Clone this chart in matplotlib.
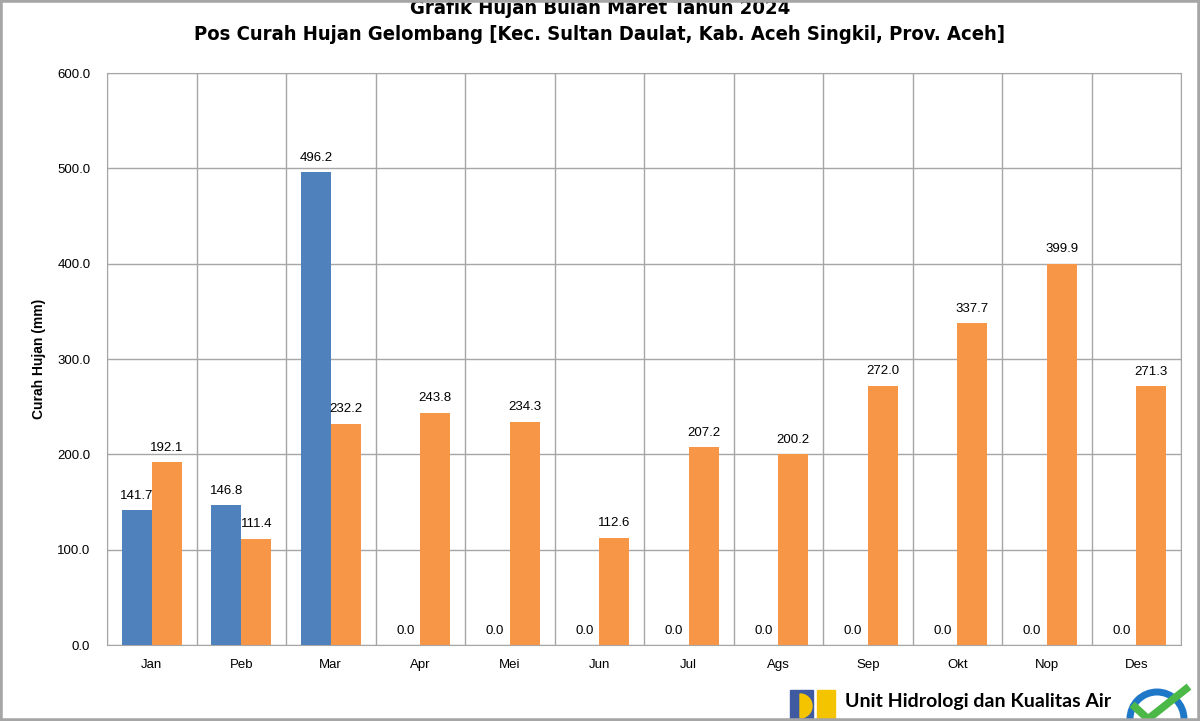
import numpy as np
import matplotlib.pyplot as plt
import matplotlib.font_manager as fm
from matplotlib.patches import Rectangle, Circle, Wedge

bulan = ['Jan', 'Peb', 'Mar', 'Apr', 'Mei', 'Jun', 'Jul', 'Ags', 'Sep', 'Okt', 'Nop', 'Des']
hujan_2024 = [141.7, 146.8, 496.2, 0.0, 0.0, 0.0, 0.0, 0.0, 0.0, 0.0, 0.0, 0.0]
hujan_rerata = [192.1, 111.4, 232.2, 243.8, 234.3, 112.6, 207.2, 200.2, 272.0, 337.7, 399.9, 271.3]

biru = '#4f81bd'
oranye = '#f79646'
abu = '#a6a6a6'
arial = ['Liberation Sans', 'DejaVu Sans']

# cari huruf sempit (condensed) bila ada
condensed = [f for f in fm.fontManager.ttflist
             if f.name == 'DejaVu Sans' and f.stretch == 'condensed' and f.weight in ('bold', 700)]
if condensed:
    judul_font = dict(family='DejaVu Sans', fontstretch='condensed', fontsize=14.5)
else:
    judul_font = dict(family=arial, fontsize=13.2)

fig = plt.figure(figsize=(12, 7.21), dpi=100)
ax = fig.add_axes([107 / 1200, 1 - 645 / 721, (1181 - 107) / 1200, (645 - 73) / 721])

x = np.arange(len(bulan))
w = 0.335
b1 = ax.bar(x - w / 2, hujan_2024, w, color=biru, zorder=3)
b2 = ax.bar(x + w / 2, hujan_rerata, w, color=oranye, zorder=3)
ax.bar_label(b1, fmt='%.1f', padding=6, fontsize=9.5, family=arial)
ax.bar_label(b2, fmt='%.1f', padding=6, fontsize=9.5, family=arial)

ax.set_xlim(-0.5, len(bulan) - 0.5)
ax.set_ylim(0, 600)
ax.set_yticks(np.arange(0, 601, 100))
ax.set_yticklabels([f'{v:.1f}' for v in np.arange(0, 601, 100)], family=arial, fontsize=9.5)
ax.set_xticks(x)
ax.set_xticklabels(bulan, family=arial, fontsize=9.5)
ax.tick_params(axis='x', length=0, pad=10)
ax.tick_params(axis='y', length=0, pad=12)

ax.set_xticks(np.arange(-0.5, len(bulan)), minor=True)
ax.tick_params(axis='x', which='minor', length=0)
ax.grid(axis='x', which='minor', color=abu, lw=1, zorder=0)
ax.grid(axis='y', which='major', color=abu, lw=1, zorder=0)
for s in ax.spines.values():
    s.set_color(abu)

ax.set_ylabel('Curah Hujan (mm)', family=arial, fontsize=10, fontweight='bold', labelpad=8)

fig.text(0.5, 1 - 8 / 721, 'Grafik Hujan Bulan Maret Tahun 2024', ha='center', va='center',
         fontweight='bold', **judul_font)
fig.text(0.5, 1 - 35 / 721, 'Pos Curah Hujan Gelombang [Kec. Sultan Daulat, Kab. Aceh Singkil, Prov. Aceh]',
         ha='center', va='center', fontweight='bold', **judul_font)

# logo dan keterangan di bawah (satuan inci, 100 px per inci)
it = fig.dpi_scale_trans
fig.patches.append(Rectangle((7.90, 0), 0.23, 0.31, transform=it, color='#3f5aa0', zorder=5))
fig.patches.append(Wedge((8.00, 0.15), 0.12, -90, 90, transform=it, color='#f5c400', zorder=6))
fig.patches.append(Rectangle((8.17, 0), 0.18, 0.31, transform=it, color='#f5c400', zorder=5))
fig.text(845 / 1200, 1 - 701 / 721, 'Unit Hidrologi dan Kualitas Air', ha='left', va='center',
         family=['Lato', 'DejaVu Sans'], fontsize=14, fontweight='bold')
fig.text(845 / 1200, 1 - 727 / 721, 'Balai Wilayah Sungai Sumatera I', ha='left', va='center',
         family=['Lato', 'DejaVu Sans'], fontsize=14, fontweight='bold')
fig.patches.append(Circle((11.57, 0.02), 0.27, transform=it, fill=False, ec='#1f77c8', lw=5, zorder=6))
fig.lines.append(plt.Line2D([11.35, 11.48, 11.86], [0.14, 0.02, 0.32], transform=it,
                            color='#4cb848', lw=5.5, zorder=7))

# bingkai luar
fig.patches.append(Rectangle((0, 0), 1, 1, transform=fig.transFigure, fill=False, ec=abu, lw=4, zorder=10))

fig.savefig('out.png', dpi=100)
